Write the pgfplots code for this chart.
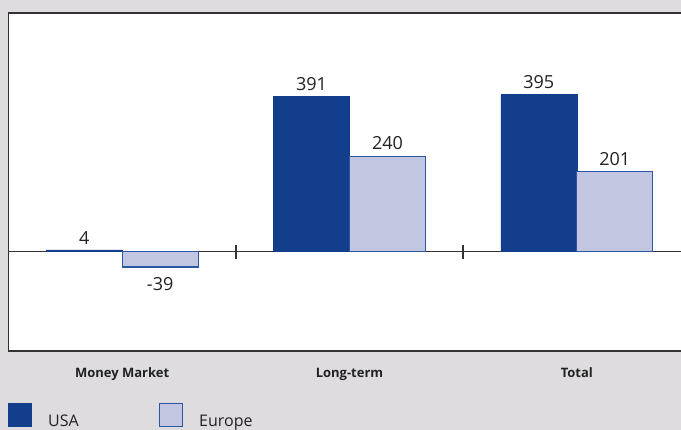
\documentclass[border=0pt]{standalone}
\usepackage{pgfplots}
\pgfplotsset{compat=1.18}
\usepackage{fontspec}
\setmainfont{Open Sans}

\definecolor{pagegray}{HTML}{DEDCDF}
\definecolor{usablue}{HTML}{123E8C}
\definecolor{eufill}{HTML}{C3C6E0}
\definecolor{euedge}{HTML}{2D55A5}
\definecolor{frame}{HTML}{333333}
\definecolor{txt}{HTML}{222222}

% net flows by segment: x position, value, printed label
\pgfplotstableread{
x  y    lab
0  4    4
1  391  391
2  395  395
}\usadata
\pgfplotstableread{
x  y    lab
1  240  240
2  201  201
}\eudata
\pgfplotstableread{
x  y    lab
0  -39  -39
}\eunegdata

\begin{document}
\begin{tikzpicture}
\path[use as bounding box] (0,0) rectangle (681bp,430bp);
\clip (0,0) rectangle (681bp,430bp);
\fill[pagegray] (0,0) rectangle (681bp,430bp);

\begin{axis}[
  at={(8.5bp,79bp)}, anchor=south west,
  scale only axis, width=682bp, height=338bp,
  xmin=-0.5, xmax=2.5, ymin=-250, ymax=600,
  axis background/.style={fill=white},
  axis line style={line width=1.5bp, frame},
  ytick=\empty,
  xtick={0,1,2},
  xticklabels={Money Market,Long-term,Total},
  major tick length=0pt,
  xticklabel style={font=\fontsize{13bp}{15bp}\selectfont\bfseries, text=txt,
    anchor=north, inner sep=0pt, text height=9.3bp, yshift=-17bp},
  ybar, bar width=76bp,
  nodes near coords, point meta=explicit symbolic,
  every node near coord/.append style={font=\fontsize{18bp}{20bp}\selectfont,
    text=txt, inner sep=5.5bp, anchor=south},
  clip=false,
]
\draw[line width=1bp, frame] (axis cs:-0.5,0) -- (axis cs:2.5,0);
\draw[line width=1.5bp, frame] ([yshift=-7bp]axis cs:0.5,0) -- ([yshift=7bp]axis cs:0.5,0);
\draw[line width=1.5bp, frame] ([yshift=-7bp]axis cs:1.5,0) -- ([yshift=7bp]axis cs:1.5,0);
\addplot[fill=usablue, draw=usablue, line width=0.6bp, bar shift=-38bp]
  table[x=x, y=y, meta=lab] {\usadata};
\addplot[fill=eufill, draw=euedge, line width=1.2bp, bar shift=38bp]
  table[x=x, y=y, meta=lab] {\eudata};
\addplot[fill=eufill, draw=euedge, line width=1.2bp, bar shift=38bp,
  every node near coord/.append style={anchor=north, text height=17.5bp}]
  table[x=x, y=y, meta=lab] {\eunegdata};
\end{axis}

% legend
\fill[usablue] (7.5bp,2.7bp) rectangle (31.5bp,26.7bp);
\node[anchor=base west, inner sep=0pt, text=txt, font=\fontsize{16bp}{18bp}\selectfont] at (48bp,3.6bp) {USA};
\filldraw[fill=eufill, draw=euedge, line width=1.2bp] (159.8bp,3.2bp) rectangle (182.2bp,26.2bp);
\node[anchor=base west, inner sep=0pt, text=txt, font=\fontsize{16bp}{18bp}\selectfont] at (199bp,3.6bp) {Europe};
\end{tikzpicture}
\end{document}
